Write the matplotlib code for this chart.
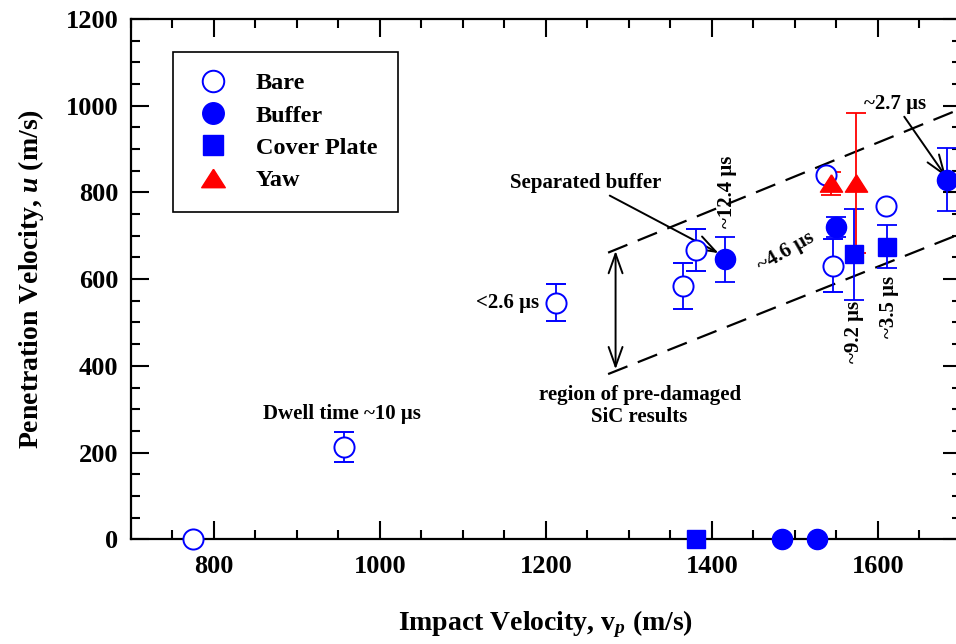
import numpy as np
import matplotlib
matplotlib.use("Agg")
import matplotlib.pyplot as plt
from matplotlib.lines import Line2D
from matplotlib.ticker import MultipleLocator

plt.rcParams['font.family'] = ['Liberation Serif', 'DejaVu Serif']
plt.rcParams['font.weight'] = 'bold'
plt.rcParams['axes.labelweight'] = 'bold'
plt.rcParams['mathtext.fontset'] = 'custom'
plt.rcParams['mathtext.rm'] = 'Liberation Serif:bold'
plt.rcParams['mathtext.it'] = 'Liberation Serif:italic:bold'
plt.rcParams['mathtext.default'] = 'rm'
plt.rcParams['lines.scale_dashes'] = False

nan = np.nan

# impact velocity (m/s), penetration velocity (m/s), +/- error (m/s)
bare_v = [775, 957, 1212, 1365, 1381, 1537, 1546, 1610]
bare_u = [0, 213, 546, 583, 667, 839, 631, 769]
bare_err = [nan, 34, 43, 53, 48, nan, 61, nan]

buffer_v = [1416, 1484, 1526, 1549, 1683]
buffer_u = [646, 0, 0, 721, 829]
buffer_err = [52, nan, nan, 23, 73]

cover_v = [1381, 1571, 1611]
cover_u = [0, 657, 675]
cover_err = [nan, 105, 49]

yaw_v = [1544, 1573]
yaw_u = [821, 821]
yaw_err = [26, 161]

# bounds of the pre-damaged SiC band
band_v = [1275, 1700]
band_upper = [661, 993]
band_lower = [381, 705]

BLUE = '#0000ff'
RED = '#ff0000'
tri = [(0, 0.78), (-1, -0.78), (1, -0.78), (0, 0.78)]

fig = plt.figure(figsize=(9.56, 6.44), dpi=100)
ax = fig.add_axes([0.1367, 0.1626, 0.8685, 0.808])

eb_kw = dict(ls='none', elinewidth=1.3, capsize=7, capthick=1.3,
             zorder=3, clip_on=False)
ax.errorbar(bare_v, bare_u, yerr=bare_err, marker='o', ms=14.5, mfc='white',
            mec=BLUE, mew=1.4, ecolor=BLUE, **eb_kw)
ax.errorbar(buffer_v, buffer_u, yerr=buffer_err, marker='o', ms=14.5,
            mfc=BLUE, mec=BLUE, ecolor=BLUE, **eb_kw)
ax.errorbar(cover_v, cover_u, yerr=cover_err, marker='s', ms=13.5,
            mfc=BLUE, mec=BLUE, ecolor=BLUE, **eb_kw)
ax.errorbar(yaw_v, yaw_u, yerr=yaw_err, marker=tri, ms=16,
            mfc=RED, mec=RED, ecolor=RED, **eb_kw)

ax.plot(band_v, band_upper, color='black', lw=1.6, dashes=(15, 8), zorder=2)
ax.plot(band_v, band_lower, color='black', lw=1.6, dashes=(15, 8), zorder=2)

ax.set_xlim(700, 1700)
ax.set_ylim(0, 1200)
ax.xaxis.set_major_locator(MultipleLocator(200))
ax.xaxis.set_minor_locator(MultipleLocator(50))
ax.yaxis.set_major_locator(MultipleLocator(200))
ax.yaxis.set_minor_locator(MultipleLocator(50))
ax.tick_params(which='both', direction='in', top=True, right=True,
               width=1.5, labelsize=19)
ax.tick_params(which='major', length=13)
ax.tick_params(which='minor', length=6.5)
ax.tick_params(axis='x', pad=11)
ax.tick_params(axis='y', pad=9)
for sp in ax.spines.values():
    sp.set_linewidth(1.6)

ax.set_xlabel(r'Impact Velocity, v$_{\mathit{p}}$ (m/s)', fontsize=20, labelpad=22)
ax.set_ylabel(r'Penetration Velocity, $\mathit{u}$ (m/s)', fontsize=20, labelpad=14)

# annotations
fs = 15
ax.text(955, 290, 'Dwell time ~10 μs', fontsize=fs, ha='center', va='center')
ax.text(1192, 546, '<2.6 μs', fontsize=fs, ha='right', va='center')
ax.text(1313, 308, 'region of pre-damaged\nSiC results', fontsize=fs,
        ha='center', va='center', linespacing=1.15)
ax.text(1418, 801, '~12.4 μs', fontsize=fs, rotation=90, ha='center', va='center')
ax.text(1489, 662, '~4.6 μs', fontsize=fs, rotation=30, ha='center', va='center')
ax.text(1571, 478, '~9.2 μs', fontsize=fs, rotation=90, ha='center', va='center')
ax.text(1613, 535, '~3.5 μs', fontsize=fs, rotation=90, ha='center', va='center')

arrow = dict(arrowstyle='->,head_length=0.7,head_width=0.25', color='black',
             lw=1.4, shrinkA=0, shrinkB=0, mutation_scale=20)
ax.annotate('Separated buffer', xy=(1408, 660), xytext=(1339, 799),
            fontsize=fs, ha='right', va='bottom', arrowprops=arrow)
ax.annotate('~2.7 μs', xy=(1682, 836), xytext=(1621, 1004),
            fontsize=fs, ha='center', va='center', arrowprops=arrow)
ax.annotate('', xy=(1284, 392), xytext=(1284, 665),
            arrowprops=dict(arrow, arrowstyle='<->,head_length=0.7,head_width=0.25'))

handles = [
    Line2D([], [], ls='none', marker='o', ms=15.5, mfc='white', mec=BLUE, mew=1.4),
    Line2D([], [], ls='none', marker='o', ms=15.5, mfc=BLUE, mec=BLUE),
    Line2D([], [], ls='none', marker='s', ms=14, mfc=BLUE, mec=BLUE),
    Line2D([], [], ls='none', marker=tri, ms=17, mfc=RED, mec=RED),
]
leg = ax.legend(handles, ['Bare', 'Buffer', 'Cover Plate', 'Yaw'],
                loc='upper left', bbox_to_anchor=(0.051, 0.937),
                borderaxespad=0, fontsize=17.5, frameon=True, fancybox=False,
                edgecolor='black', framealpha=1, borderpad=0.85,
                handlelength=1.6, handletextpad=0.95, labelspacing=0.42)
leg.get_frame().set_linewidth(1.2)

fig.savefig('out.png', dpi=100)
